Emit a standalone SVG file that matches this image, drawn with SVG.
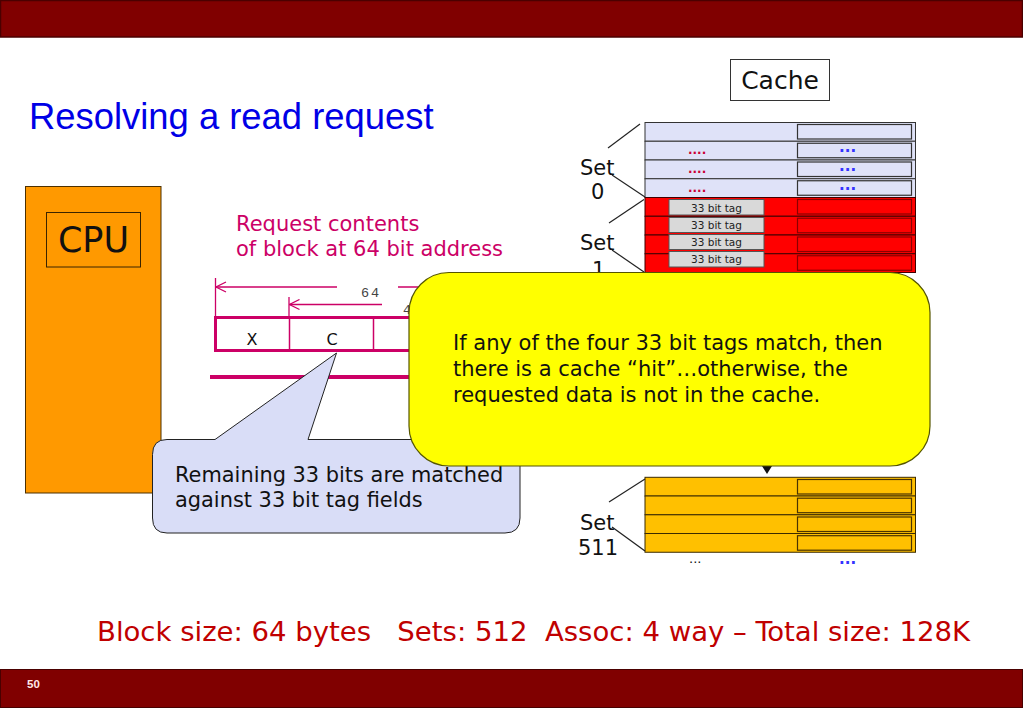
<svg xmlns="http://www.w3.org/2000/svg" width="1023" height="708" viewBox="0 0 1023 708">
<defs>
<style>
.v{font-family:"DejaVu Sans","Verdana",sans-serif}
.row0{fill:#dfe2f8;stroke:#333;stroke-width:1}
.row1{fill:#ff0000;stroke:#400000;stroke-width:1}
.row511{fill:#ffc000;stroke:#3a2a00;stroke-width:1}
.in0{fill:#dfe2f8;stroke:#333;stroke-width:1.2}
.in1{fill:#ff0000;stroke:#8a0000;stroke-width:1.2}
.in511{fill:#ffc000;stroke:#4a3300;stroke-width:1.2}
.tag{fill:#d9d9d9;stroke:#555;stroke-width:1}
.tagt{font-family:"DejaVu Sans",sans-serif;font-size:10.5px;fill:#222;text-anchor:middle}
.setl{stroke:#222;stroke-width:1.2;fill:none}
.setx{font-family:"DejaVu Sans",sans-serif;font-size:21px;fill:#111}
.mag{stroke:#cc0066;fill:none}
.rdot{font-family:"DejaVu Sans",sans-serif;font-size:12px;font-weight:bold;fill:#cc0033}
.bdot{font-family:"DejaVu Sans",sans-serif;font-size:15px;font-weight:bold;fill:#3333ff}
</style>
<marker id="open" viewBox="0 0 12 12" refX="1" refY="6" markerWidth="12" markerHeight="12" markerUnits="userSpaceOnUse" orient="auto">
<path d="M11,1 L1,6 L11,11" fill="none" stroke="#cc0066" stroke-width="1.3"/>
</marker>
</defs>
<rect width="1023" height="708" fill="#ffffff"/>
<g id="topbar"><rect x="0.5" y="0.5" width="1022" height="36.5" fill="#800000" stroke="#4a0000" stroke-width="1.5"/></g>
<g id="bottombar"><rect x="0.5" y="669.5" width="1022" height="38" fill="#800000" stroke="#4a0000" stroke-width="1"/>
<text x="27" y="688" font-family="Liberation Sans,Arial,sans-serif" font-size="11.5" font-weight="bold" fill="#ffe8e8">50</text></g>
<text id="title" x="29" y="129" font-family="Liberation Sans,Arial,sans-serif" font-size="36.4" fill="#0000e6">Resolving a read request</text>
<g id="cachelabel"><rect x="730.5" y="59.5" width="99" height="41" fill="#fff" stroke="#333" stroke-width="1"/>
<text x="780" y="89" class="v" font-size="25" text-anchor="middle" fill="#111">Cache</text></g>
<g id="cpu"><rect x="25.5" y="186.5" width="135.5" height="306.5" fill="#ff9900" stroke="#4d3000" stroke-width="1"/>
<rect x="46.5" y="212.5" width="94" height="54.5" fill="none" stroke="#3a2400" stroke-width="1"/>
<text x="93.5" y="252" class="v" font-size="35" text-anchor="middle" fill="#111">CPU</text></g>
<g id="set0">
<rect x="645" y="122.5" width="270.5" height="18.75" class="row0"/>
<rect x="645" y="141.25" width="270.5" height="18.75" class="row0"/>
<rect x="645" y="160" width="270.5" height="18.75" class="row0"/>
<rect x="645" y="178.75" width="270.5" height="18.75" class="row0"/>
<rect x="797.5" y="124.5" width="114" height="14.5" class="in0"/>
<rect x="797.5" y="143.25" width="114" height="14.5" class="in0"/>
<rect x="797.5" y="162" width="114" height="14.5" class="in0"/>
<rect x="797.5" y="180.75" width="114" height="14.5" class="in0"/>
<text x="688" y="154" class="rdot">....</text>
<text x="688" y="173" class="rdot">....</text>
<text x="688" y="191.5" class="rdot">....</text>
<text x="839" y="152" class="bdot">...</text>
<text x="839" y="171" class="bdot">...</text>
<text x="839" y="189.5" class="bdot">...</text>
<line x1="608" y1="148" x2="640" y2="124" class="setl"/>
<line x1="612" y1="175" x2="645" y2="197" class="setl"/>
<text x="580" y="175" class="setx">Set</text>
<text x="591" y="199" class="setx">0</text>
</g>
<g id="set1">
<rect x="645" y="197.5" width="270.5" height="18.75" class="row1"/>
<rect x="645" y="216.25" width="270.5" height="18.75" class="row1"/>
<rect x="645" y="235" width="270.5" height="18.75" class="row1"/>
<rect x="645" y="253.75" width="270.5" height="18.75" class="row1"/>
<rect x="797.5" y="199.5" width="114" height="14.5" class="in1"/>
<rect x="797.5" y="218.25" width="114" height="14.5" class="in1"/>
<rect x="797.5" y="237" width="114" height="14.5" class="in1"/>
<rect x="797.5" y="255.75" width="114" height="14.5" class="in1"/>
<rect x="669" y="199.5" width="95" height="15.5" class="tag"/>
<rect x="669" y="217.5" width="95" height="15" class="tag"/>
<rect x="669" y="234.5" width="95" height="15" class="tag"/>
<rect x="669" y="251.5" width="95" height="15.5" class="tag"/>
<text x="716.5" y="211.5" class="tagt">33 bit tag</text>
<text x="716.5" y="229" class="tagt">33 bit tag</text>
<text x="716.5" y="246" class="tagt">33 bit tag</text>
<text x="716.5" y="263" class="tagt">33 bit tag</text>
<line x1="609" y1="223" x2="644" y2="199.5" class="setl"/>
<line x1="612" y1="250" x2="644" y2="272" class="setl"/>
<text x="580" y="250" class="setx">Set</text>
<text x="592" y="277" class="setx">1</text>
</g>
<g id="set511">
<rect x="645" y="477.3" width="270.5" height="18.75" class="row511"/>
<rect x="645" y="496" width="270.5" height="18.75" class="row511"/>
<rect x="645" y="514.8" width="270.5" height="18.75" class="row511"/>
<rect x="645" y="533.5" width="270.5" height="18.75" class="row511"/>
<rect x="797.5" y="479.5" width="114" height="14.5" class="in511"/>
<rect x="797.5" y="498.2" width="114" height="14.5" class="in511"/>
<rect x="797.5" y="517" width="114" height="14.5" class="in511"/>
<rect x="797.5" y="535.7" width="114" height="14.5" class="in511"/>
<line x1="609" y1="502" x2="645" y2="479" class="setl"/>
<line x1="612" y1="527" x2="645" y2="551" class="setl"/>
<text x="580" y="530" class="setx">Set</text>
<text x="578" y="555" class="setx">511</text>
<text x="689" y="563" font-family="DejaVu Sans,sans-serif" font-size="13" fill="#111">...</text>
<text x="839" y="564" class="bdot">...</text>
</g>
<g id="request">
<text x="236" y="231" class="v" font-size="21" fill="#cc0066">Request contents</text>
<text x="236" y="256" class="v" font-size="21" fill="#cc0066">of block at 64 bit address</text>
</g>
<g id="address">
<line x1="215.5" y1="278" x2="215.5" y2="316" class="mag" stroke-width="1.3"/>
<line x1="289" y1="297" x2="289" y2="316" class="mag" stroke-width="1.3"/>
<line x1="216" y1="287" x2="337" y2="287" class="mag" stroke-width="1.3" marker-start="url(#open)"/>
<line x1="398" y1="287" x2="560" y2="287" class="mag" stroke-width="1.3"/>
<text x="361" y="297" font-family="Liberation Mono,monospace" font-size="13.5" letter-spacing="2" fill="#444">64</text>
<line x1="289.5" y1="304.5" x2="382" y2="304.5" class="mag" stroke-width="1.3" marker-start="url(#open)"/>
<text x="403" y="314" font-family="Liberation Mono,monospace" font-size="13.5" fill="#444">4</text>
<rect x="215.5" y="317.5" width="360" height="33" class="mag" stroke-width="3"/>
<line x1="289.5" y1="318" x2="289.5" y2="350" class="mag" stroke-width="1.5"/>
<line x1="373.5" y1="318" x2="373.5" y2="350" class="mag" stroke-width="1.5"/>
<text x="252" y="345" class="v" font-size="16" text-anchor="middle" fill="#111">X</text>
<text x="332" y="345" class="v" font-size="16" text-anchor="middle" fill="#111">C</text>
<line x1="210" y1="377" x2="560" y2="377" class="mag" stroke-width="4"/>
</g>
<g id="bluecallout">
<path d="M167,439.5 L215,439.5 L336.5,353 L308,439.5 L505,439.5 Q520,439.5 520,454.5 L520,518 Q520,533 505,533 L167,533 Q152.5,533 152.5,518 L152.5,454.5 Q152.5,439.5 167,439.5 Z" fill="#d9ddf7" stroke="#222" stroke-width="1"/>
<text x="175" y="482" class="v" font-size="20.9" fill="#111">Remaining 33 bits are matched</text>
<text x="175" y="506.5" class="v" font-size="20.9" fill="#111">against 33 bit tag fields</text>
</g>
<g id="connectors">
<polygon points="762,466 772,466 767,474" fill="#111"/>
</g>
<g id="yellowcallout">
<rect x="409" y="272.5" width="521" height="193.5" rx="40" ry="40" fill="#ffff00" stroke="#555500" stroke-width="1.2"/>
<text x="453" y="350" class="v" font-size="21" fill="#111">If any of the four 33 bit tags match, then</text>
<text x="453" y="376" class="v" font-size="21" fill="#111">there is a cache “hit”…otherwise, the</text>
<text x="453" y="401.5" class="v" font-size="21" fill="#111">requested data is not in the cache.</text>
</g>
<text id="summary" x="97" y="641" font-family="DejaVu Sans,sans-serif" font-stretch="condensed" font-size="26" fill="#c00000" style="white-space:pre" xml:space="preserve" textLength="873" lengthAdjust="spacingAndGlyphs">Block size: 64 bytes   Sets: 512  Assoc: 4 way – Total size: 128K</text>
</svg>
